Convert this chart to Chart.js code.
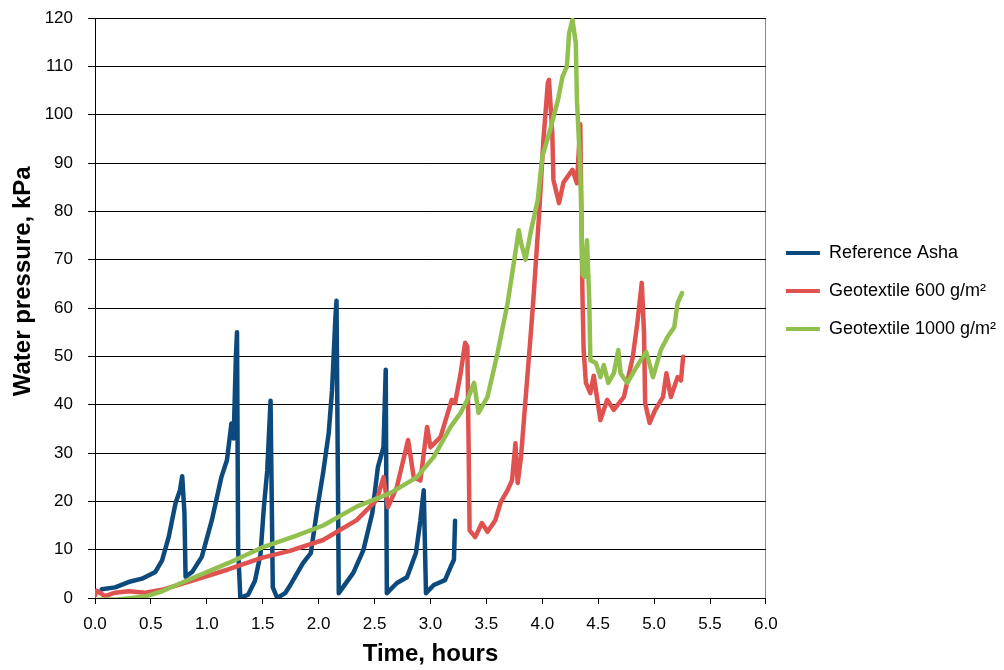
<!DOCTYPE html>
<html>
<head>
<meta charset="utf-8">
<script src="https://cdn.jsdelivr.net/npm/chart.js@4.4.0/dist/chart.umd.min.js"></script>
<style>
  html, body { margin: 0; padding: 0; background: #fff; }
  canvas { display: block; }
</style>
</head>
<body>
<canvas id="pressureChart" width="1004" height="670"></canvas>
<script>
// time (hours) / water pressure (kPa)
const ashaTime = [0.06, 0.18, 0.3, 0.42, 0.54, 0.6, 0.66, 0.72, 0.76, 0.78, 0.8, 0.81, 0.87, 0.955, 1.045, 1.13,
    1.18, 1.22, 1.24, 1.26, 1.27, 1.28, 1.3, 1.37, 1.43, 1.48, 1.51, 1.54, 1.57, 1.59, 1.63, 1.7, 1.75, 1.86,
    1.93, 1.99, 2.04, 2.09, 2.12, 2.15, 2.16, 2.18, 2.22, 2.31, 2.4, 2.48, 2.53, 2.58, 2.6, 2.61, 2.7, 2.79,
    2.87, 2.91, 2.94, 2.96, 3.03, 3.13, 3.18, 3.21, 3.22];
const ashaPressure = [1.8, 2.2, 3.3, 4.0, 5.4, 7.8, 12.7, 19.6, 22.3, 25.2, 17.5, 4.4, 5.4, 8.5, 16.1, 25,
    28.5, 36.1, 33, 50, 55, 10, 0, 0.7, 3.5, 9, 18.7, 26.3, 40.8, 2.2, 0, 1, 2.8, 7.2,
    9.3, 18.8, 25.9, 34.1, 43, 58, 61.5, 1, 2.3, 5.2, 9.9, 17.6, 27.1, 31.2, 47.2, 1, 3.1, 4.3,
    9.3, 16.1, 22.3, 1, 2.7, 3.7, 6.4, 7.9, 16];

const geo600Time = [0, 0.015, 0.09, 0.18, 0.3, 0.45, 0.6, 0.9, 1.19, 1.49, 1.75, 2.04, 2.34, 2.52, 2.58, 2.62,
    2.7, 2.8, 2.85, 2.91, 2.97, 3.0, 3.09, 3.19, 3.22, 3.27, 3.31, 3.33, 3.34, 3.35, 3.4, 3.46, 3.51, 3.58,
    3.63, 3.69, 3.73, 3.76, 3.78, 3.81, 3.85, 3.9, 3.92, 3.97, 4.01, 4.05, 4.06, 4.09, 4.1, 4.15, 4.19, 4.27,
    4.31, 4.34, 4.36, 4.37, 4.39, 4.43, 4.46, 4.52, 4.58, 4.64, 4.73, 4.77, 4.81, 4.85, 4.89, 4.91, 4.92,
    4.96, 5.01, 5.08, 5.11, 5.15, 5.21, 5.24, 5.26];
const geo600Pressure = [0.5, 1.5, 0.4, 1.1, 1.4, 1.1, 1.7, 3.8, 5.9, 8.3, 9.8, 12, 16.1, 20.3, 25, 18.8,
    23, 32.7, 25, 24.3, 35.4, 31.2, 33.3, 41, 40.3, 46.5, 52.8, 52, 34, 14, 12.6, 15.5, 13.7, 16.1,
    19.9, 22.3, 24.4, 32, 23.8, 29.2, 41, 55.5, 61.7, 78.8, 94.8, 106.6, 107.2, 96, 86.5, 81.7, 86, 88.6,
    85.8, 98, 61.7, 51.3, 44.5, 42.4, 46, 36.8, 41, 38.9, 41.6, 45.7, 49.9, 56.9, 65.2, 54.8, 40.3,
    36.2, 38.9, 41.6, 46.5, 41.6, 45.7, 45, 49.9];

const geo1000Time = [0, 0.06, 0.2, 0.45, 0.6, 0.9, 1.19, 1.49, 1.79, 2.04, 2.34, 2.64, 2.88, 3.03, 3.18,
    3.27, 3.33, 3.39, 3.43, 3.51, 3.6, 3.69, 3.74, 3.79, 3.81, 3.85, 3.9, 3.96, 4.0, 4.07, 4.14, 4.18, 4.22,
    4.24, 4.27, 4.3, 4.31, 4.34, 4.36, 4.38, 4.4, 4.42, 4.43, 4.48, 4.52, 4.55, 4.59, 4.64, 4.68, 4.7, 4.76,
    4.81, 4.88, 4.93, 4.99, 5.06, 5.12, 5.18, 5.21, 5.25];
const geo1000Pressure = [-0.5, -0.3, -0.3, 0.3, 1.4, 4.4, 7.2, 10.4, 12.8, 15, 18.9, 21.7, 25, 29.2, 35.4,
    38.3, 41, 44.5, 38.3, 41.6, 50.7, 61, 68.5, 76.1, 73.5, 70, 76.1, 82.4, 91.3, 96.8, 103, 107.8, 110,
    116.9, 119.6, 114.8, 103, 89, 67, 66.4, 74, 61.7, 49.2, 48.6, 45.7, 48.2, 44.5, 46.5, 51.3, 46.5, 44.5,
    46.5, 49.2, 50.9, 45.7, 51.3, 54, 56, 61, 63.1];

const seriesNames = ['Reference Asha', 'Geotextile 600 g/m²', 'Geotextile 1000 g/m²'];
const seriesColors = ['#0c4a7d', '#e05250', '#92c04f'];

function toPoints(xs, ys) {
    return xs.map((x, i) => ({ x: x, y: ys[i] }));
}

// legend sits a bit higher than centre in the original
const legendShift = {
    id: 'legendShift',
    afterLayout(chart) {
        chart.legend.top -= 53;
        chart.legend.bottom -= 53;
    }
};

const tickFont = { family: 'Liberation Sans, Arial, sans-serif', size: 17 };
const titleFont = { family: 'Liberation Sans, Arial, sans-serif', size: 24, weight: 'bold' };

new Chart(document.getElementById('pressureChart'), {
    type: 'line',
    data: {
        datasets: [
            { label: seriesNames[0], data: toPoints(ashaTime, ashaPressure), borderColor: seriesColors[0], order: 3 },
            { label: seriesNames[1], data: toPoints(geo600Time, geo600Pressure), borderColor: seriesColors[1], order: 2 },
            { label: seriesNames[2], data: toPoints(geo1000Time, geo1000Pressure), borderColor: seriesColors[2], order: 1 }
        ]
    },
    options: {
        responsive: false,
        devicePixelRatio: 1,
        animation: false,
        layout: { padding: { top: 18, right: -2, left: 0, bottom: 0 } },
        elements: {
            line: { borderWidth: 4.5, tension: 0, fill: false, borderJoinStyle: 'round', borderCapStyle: 'round' },
            point: { radius: 0 }
        },
        plugins: {
            tooltip: { enabled: false },
            legend: {
                position: 'right',
                align: 'center',
                labels: {
                    font: { family: 'Liberation Sans, Arial, sans-serif', size: 18 },
                    color: '#000',
                    boxWidth: 34,
                    boxHeight: 4,
                    padding: 20,
                    generateLabels(chart) {
                        const items = Chart.defaults.plugins.legend.labels.generateLabels(chart);
                        items.forEach(it => { it.lineWidth = 0; it.fillStyle = it.strokeStyle; });
                        return items.sort((a, b) => a.datasetIndex - b.datasetIndex);
                    }
                }
            }
        },
        scales: {
            x: {
                type: 'linear',
                min: 0,
                max: 6,
                afterFit(scale) { scale.height = 72; },
                ticks: {
                    stepSize: 0.5,
                    color: '#000',
                    font: tickFont,
                    padding: 10,
                    maxRotation: 0,
                    callback: v => v.toFixed(1)
                },
                grid: {
                    color: c => (c.tick && c.tick.value === 6 ? '#8a8a8a' : 'rgba(0,0,0,0)'),
                    tickColor: '#000',
                    tickLength: 6
                },
                border: { color: '#000', width: 1 },
                title: { display: true, text: 'Time, hours', color: '#000', font: titleFont, padding: { bottom: 1 } }
            },
            y: {
                min: 0,
                max: 120,
                afterFit(scale) {
                    scale.width = 95;
                    scale.paddingTop = 10;
                    scale.paddingBottom = 10;
                },
                ticks: { stepSize: 10, color: '#000', font: tickFont, padding: 15 },
                grid: { color: '#000', tickColor: '#000', tickLength: 7 },
                border: { color: '#000', width: 1 },
                title: {
                    display: true,
                    text: '        Water pressure, kPa',
                    color: '#000',
                    font: titleFont,
                    padding: { top: 9 }
                }
            }
        }
    },
    plugins: [legendShift]
});
</script>
</body>
</html>
